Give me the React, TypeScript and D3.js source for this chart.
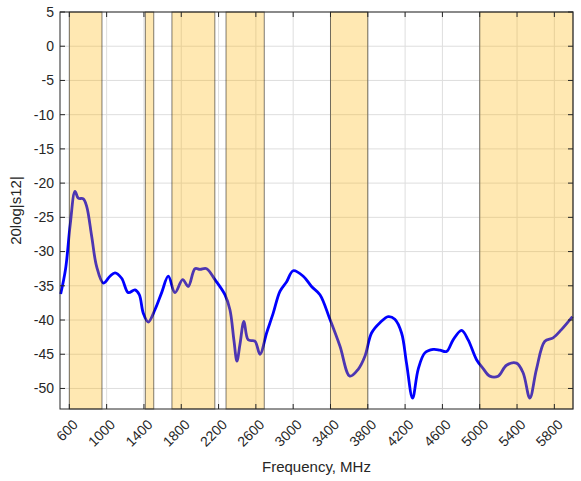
// @ts-nocheck
import React, { useEffect, useRef } from "react";
import * as d3 from "d3";

// measured |S12| in dB vs frequency in MHz
const freq = [
  507, 560, 610, 661, 696, 750, 786, 840, 893, 964, 1036, 1090, 1161, 1232, 1304, 1350,
  1393, 1446, 1518, 1590, 1661, 1733, 1815, 1875, 1947, 2000, 2072, 2161, 2268, 2322,
  2365, 2397, 2430, 2472, 2518, 2590, 2644, 2715, 2786, 2858, 2930, 3000, 3108, 3197,
  3287, 3394, 3501, 3608, 3697, 3769, 3840, 3930, 4019, 4090, 4162, 4215, 4280, 4340,
  4412, 4501, 4572, 4644, 4715, 4805, 4876, 4966, 5037, 5108, 5197, 5287, 5394, 5465,
  5537, 5608, 5698, 5787, 5876, 5994,
];
const s12 = [
  -36.2, -32.5, -26.0, -21.2, -22.2, -22.3, -23.4, -27.8, -32.2, -34.6, -33.6, -33.1, -33.9, -36.0, -35.6, -36.3,
  -39.0, -40.3, -38.5, -36.0, -33.6, -36.0, -34.1, -35.1, -32.5, -32.6, -32.5, -34.1, -36.3, -38.5,
  -43.0, -46.0, -43.5, -40.2, -42.9, -43.1, -45.0, -41.9, -39.0, -35.8, -34.4, -32.8, -33.6, -35.1,
  -36.3, -39.9, -43.8, -48.2, -47.2, -45.3, -41.9, -40.4, -39.5, -39.9, -41.9, -46.3, -51.4, -47.2,
  -44.8, -44.3, -44.4, -44.6, -42.9, -41.5, -42.9, -45.8, -47.1, -48.2, -48.2, -46.6, -46.3, -47.7,
  -51.4, -47.2, -43.1, -42.6, -41.4, -39.5,
];

// highlighted bands [start, end] in MHz
const bandStart = [600, 1415, 1700, 2280, 3400, 5000];
const bandEnd = [950, 1505, 2160, 2690, 3800, 6000];

const xTicks = [600, 1000, 1400, 1800, 2200, 2600, 3000, 3400, 3800, 4200, 4600, 5000, 5400, 5800];
const yTicks = [5, 0, -5, -10, -15, -20, -25, -30, -35, -40, -45, -50];

export default function App() {
  const ref = useRef(null);

  useEffect(() => {
    const svg = d3.select(ref.current);
    svg.selectAll("*").remove();

    const left = 60, right = 573, top = 12, bottom = 409;
    const x = d3.scaleLinear().domain([500, 6000]).range([left, right]);
    const y = d3.scaleLinear().domain([-53, 5]).range([bottom, top]);
    const font = "Liberation Sans, Arial, sans-serif";
    const ink = "#262626";

    svg.append("rect")
      .attr("x", left).attr("y", top)
      .attr("width", right - left).attr("height", bottom - top)
      .attr("fill", "#fff");

    // grid
    const grid = svg.append("g").attr("stroke", "#dedede").attr("stroke-width", 1);
    xTicks.forEach(t => {
      grid.append("line").attr("x1", x(t)).attr("x2", x(t)).attr("y1", top).attr("y2", bottom);
    });
    yTicks.forEach(t => {
      grid.append("line").attr("x1", left).attr("x2", right).attr("y1", y(t)).attr("y2", y(t));
    });

    // curve
    const line = d3.line()
      .x((d, i) => x(freq[i]))
      .y(d => y(d))
      .curve(d3.curveCatmullRom.alpha(0.5));
    svg.append("path")
      .datum(s12)
      .attr("fill", "none")
      .attr("stroke", "#0000ff")
      .attr("stroke-width", 2.8)
      .attr("stroke-linejoin", "round")
      .attr("d", line);

    // bands on top, translucent
    bandStart.forEach((b, i) => {
      svg.append("rect")
        .attr("x", x(b)).attr("y", top)
        .attr("width", x(bandEnd[i]) - x(b)).attr("height", bottom - top)
        .attr("fill", "#ffb400").attr("fill-opacity", 0.3)
        .attr("stroke", "#000").attr("stroke-opacity", 0.5).attr("stroke-width", 1);
    });

    // box
    svg.append("rect")
      .attr("x", left).attr("y", top)
      .attr("width", right - left).attr("height", bottom - top)
      .attr("fill", "none").attr("stroke", ink).attr("stroke-width", 1);

    // ticks (inside, all four sides)
    const tk = svg.append("g").attr("stroke", ink).attr("stroke-width", 1);
    xTicks.forEach(t => {
      tk.append("line").attr("x1", x(t)).attr("x2", x(t)).attr("y1", bottom).attr("y2", bottom - 5);
      tk.append("line").attr("x1", x(t)).attr("x2", x(t)).attr("y1", top).attr("y2", top + 5);
    });
    yTicks.forEach(t => {
      tk.append("line").attr("x1", left).attr("x2", left + 5).attr("y1", y(t)).attr("y2", y(t));
      tk.append("line").attr("x1", right).attr("x2", right - 5).attr("y1", y(t)).attr("y2", y(t));
    });

    // y tick labels
    yTicks.forEach(t => {
      svg.append("text")
        .attr("x", left - 6).attr("y", y(t))
        .attr("dy", "0.35em")
        .attr("text-anchor", "end")
        .attr("font-family", font).attr("font-size", 14)
        .attr("fill", ink)
        .text(t);
    });

    // x tick labels rotated
    xTicks.forEach(t => {
      svg.append("text")
        .attr("transform", `translate(${x(t) + 6}, ${bottom + 13}) rotate(-45)`)
        .attr("dy", "0.35em")
        .attr("text-anchor", "end")
        .attr("font-family", font).attr("font-size", 14)
        .attr("fill", ink)
        .text(t);
    });

    svg.append("text")
      .attr("x", (left + right) / 2).attr("y", 472)
      .attr("text-anchor", "middle")
      .attr("font-family", font).attr("font-size", 15)
      .attr("fill", ink)
      .text("Frequency, MHz");

    svg.append("text")
      .attr("transform", `translate(21, ${(top + bottom) / 2}) rotate(-90)`)
      .attr("text-anchor", "middle")
      .attr("font-family", font).attr("font-size", 15)
      .attr("fill", ink)
      .text("20log|s12|");
  }, []);

  return (
    <div style={{ position: "fixed", left: 0, top: 0 }}>
      <svg ref={ref} width={581} height={481} style={{ display: "block", background: "#fff" }}></svg>
    </div>
  );
}
